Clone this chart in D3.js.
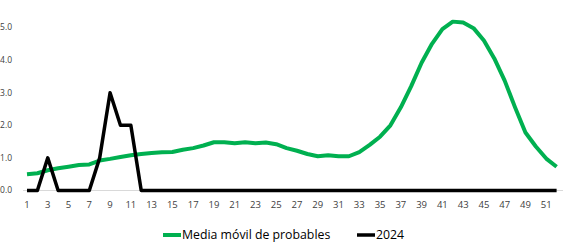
<!DOCTYPE html>
<html>
<head>
<meta charset="utf-8">
<script src="https://cdn.jsdelivr.net/npm/d3@7"></script>
<style>
  body { margin: 0; background: #fff; }
  text { font-family: "Open Sans", "Liberation Sans", sans-serif; }
</style>
</head>
<body>
<svg id="chart" width="564" height="246"></svg>
<script>
const weeks = d3.range(1, 53);

const mediaMovil = [
  0.50, 0.53, 0.62, 0.68, 0.73, 0.78, 0.80, 0.92, 0.97, 1.03,
  1.08, 1.12, 1.15, 1.17, 1.18, 1.25, 1.30, 1.38, 1.48, 1.48,
  1.45, 1.48, 1.45, 1.47, 1.42, 1.30, 1.22, 1.12, 1.05, 1.08,
  1.05, 1.05, 1.18, 1.40, 1.65, 2.00, 2.55, 3.20, 3.92, 4.50,
  4.95, 5.18, 5.15, 4.98, 4.60, 4.05, 3.37, 2.55, 1.78, 1.35,
  0.98, 0.73
];

const casos2024 = [
  0, 0, 1, 0, 0, 0, 0, 1, 3, 2,
  2, 0, 0, 0, 0, 0, 0, 0, 0, 0,
  0, 0, 0, 0, 0, 0, 0, 0, 0, 0,
  0, 0, 0, 0, 0, 0, 0, 0, 0, 0,
  0, 0, 0, 0, 0, 0, 0, 0, 0, 0,
  0, 0
];

const yTicks = [0, 1, 2, 3, 4, 5];
const xTicks = weeks.filter(w => w % 2 === 1);

const series = [
  { name: "Media móvil de probables", values: mediaMovil, color: "#00b050", width: 4 },
  { name: "2024", values: casos2024, color: "#000000", width: 3.5 },
];

const svg = d3.select("#chart");

const x = d3.scaleLinear().domain([1, 52]).range([27, 556.6]);
const y = d3.scaleLinear().domain([0, 5]).range([190.5, 27.5]);

// axis line along zero
svg.append("line")
  .attr("x1", 23)
  .attr("x2", 563)
  .attr("y1", y(0))
  .attr("y2", y(0))
  .attr("stroke", "#d9d9d9")
  .attr("stroke-width", 1);

// y labels
svg.append("g")
  .selectAll("text")
  .data(yTicks)
  .join("text")
  .attr("x", 12)
  .attr("y", d => y(d))
  .attr("dy", "0.35em")
  .attr("text-anchor", "end")
  .attr("fill", "#404040")
  .style("font-size", "8.5px")
  .text(d => d.toFixed(1));

// x labels
svg.append("g")
  .selectAll("text")
  .data(xTicks)
  .join("text")
  .attr("x", d => x(d))
  .attr("y", 208)
  .attr("text-anchor", "middle")
  .attr("fill", "#404040")
  .style("font-size", "9.5px")
  .text(d => d);

const line = d3.line()
  .x((d, i) => x(weeks[i]))
  .y(d => y(d));

series.forEach(s => {
  svg.append("path")
    .datum(s.values)
    .attr("fill", "none")
    .attr("stroke", s.color)
    .attr("stroke-width", s.width)
    .attr("stroke-linejoin", "round")
    .attr("d", line);
});

// legend
const legendPos = [163, 357];
const legend = svg.append("g")
  .selectAll("g")
  .data(series)
  .join("g")
  .attr("transform", (d, i) => `translate(${legendPos[i]},235)`);

legend.append("line")
  .attr("x1", 0)
  .attr("x2", 18)
  .attr("stroke", d => d.color)
  .attr("stroke-width", d => d.width);

legend.append("text")
  .attr("x", 19)
  .attr("dy", "0.35em")
  .attr("fill", "#000")
  .style("font-size", "12.3px")
  .text(d => d.name);
</script>
</body>
</html>
